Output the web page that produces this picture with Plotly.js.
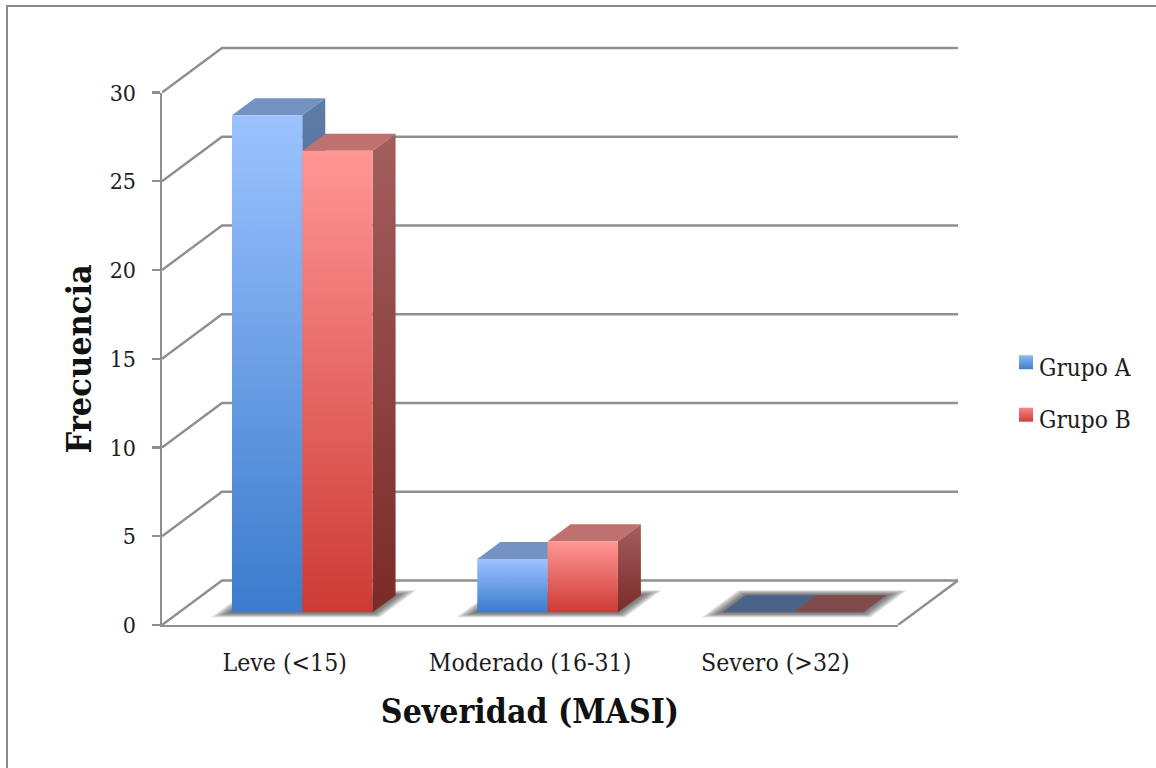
<!DOCTYPE html>
<html>
<head>
<meta charset="utf-8">
<script src="https://cdn.plot.ly/plotly-3.0.1.min.js"></script>
<style>html,body{margin:0;padding:0;background:#fff}#chart{width:1156px;height:768px}</style>
</head>
<body>
<div id="chart"></div>
<script>
// Severity counts per study group
const categories = ['Leve (<15)', 'Moderado (16-31)', 'Severo (>32)'];
const grupoA = [28, 3, 0];
const grupoB = [26, 4, 0];
const yTicks = [0, 5, 10, 15, 20, 25, 30];

const FONT = '"DejaVu Serif Condensed","DejaVu Serif","Liberation Serif",serif';
const INK = '#1c1c1c';
const GRID = '#8f8f8f';
const GRID_W = 2.4;

// Front plane of the chart in pixels; the labelled axes span this box
const W = 1156, H = 768;
const L = 162, R = 898, T = 92.5, B = 625;
const ux = (R - L) / categories.length;   // pixels per category
const uy = (B - T) / 30;                  // pixels per unit of frequency
const dx = px => px / ux;
const dy = px => px / uy;

// Oblique projection of the third dimension, in data units
const wall = {x: dx(60), y: dy(44.5)};
const plane = {x: dx(17.6), y: dy(12.7)};
const depth = {x: dx(23), y: dy(17)};
const barW = dx(70.3);

// Outer drawing box: the receding walls plus room for their line width
const OR = R + 64, OT = 44;
const pw = OR - L, ph = B - OT;

const palette = {
  a: {front: ['#9cc3ff', '#3b7bcc'], side: ['#5f7ba6', '#2f5f99'], top: '#7593c2', flat: '#4b6388'},
  b: {front: ['#ff9694', '#cd3a35'], side: ['#a35f5e', '#7a2a27'], top: '#bf7170', flat: '#7f4c4b'}
};

const traces = [];

function poly(xs, ys, style) {
  traces.push(Object.assign({
    type: 'scatter', mode: 'lines', xaxis: 'x2', yaxis: 'y2', x: xs, y: ys, fill: 'toself',
    line: {width: 0}, showlegend: false, hoverinfo: 'skip'
  }, style));
}

// Back wall, side wall and floor outline
(function () {
  const xs = [], ys = [];
  yTicks.forEach(v => {
    xs.push(0, wall.x, 3 + wall.x, null);
    ys.push(v, v + wall.y, v + wall.y, null);
  });
  xs.push(3, 3 + wall.x);
  ys.push(0, wall.y);
  traces.push({
    type: 'scatter', mode: 'lines', xaxis: 'x2', yaxis: 'y2', x: xs, y: ys,
    line: {color: GRID, width: GRID_W}, showlegend: false, hoverinfo: 'skip'
  });
})();

// Soft cast shadow on the floor: nested translucent footprints
function shadow(i) {
  const x0 = i + 0.5 + plane.x - barW, x1 = i + 0.5 + plane.x + barW;
  const y0 = plane.y;
  const skew = (depth.x / depth.y);
  const steps = 7;
  for (let k = steps; k >= 1; k--) {
    const mh = dx(14 * k / steps), mv = dy(5 * k / steps);
    const s = mv * skew;
    poly(
      [x0 - mh - s, x1 + mh - s, x1 + mh + depth.x + s, x0 - mh + depth.x + s, x0 - mh - s],
      [y0 - mv, y0 - mv, y0 + depth.y + mv, y0 + depth.y + mv, y0 - mv],
      {fillcolor: 'rgba(60,60,60,0.15)'}
    );
  }
}

function bar(i, offset, value, c) {
  const x0 = i + 0.5 + plane.x + offset, x1 = x0 + barW;
  const y0 = plane.y, y1 = y0 + value;
  const up = (a, b) => ({type: 'vertical', colorscale: [[0, b], [1, a]]});
  // top face
  poly([x0, x1, x1 + depth.x, x0 + depth.x, x0],
       [y1, y1, y1 + depth.y, y1 + depth.y, y1],
       {fillcolor: value > 0 ? c.top : c.flat});
  if (value > 0) {
    // side face
    poly([x1, x1 + depth.x, x1 + depth.x, x1, x1],
         [y0, y0 + depth.y, y1 + depth.y, y1, y0],
         {fillgradient: up(c.side[0], c.side[1])});
    // front face
    poly([x0, x1, x1, x0, x0], [y0, y0, y1, y1, y0],
         {fillgradient: up(c.front[0], c.front[1])});
  }
}

categories.forEach((_, i) => shadow(i));
categories.forEach((_, i) => {
  bar(i, -barW, grupoA[i], palette.a);
  bar(i, 0, grupoB[i], palette.b);
});

// Legend entries
[['Grupo A', '#8fb8f2', '#3f7ecb'], ['Grupo B', '#f58886', '#cf3f3a']].forEach(([name, c0, c1]) => {
  traces.push({
    type: 'scatter', mode: 'markers', name, legendgroup: name, x: [null], y: [null],
    marker: {symbol: 'square', size: 14, color: c0, gradient: {type: 'vertical', color: c1}},
    hoverinfo: 'skip'
  });
});

const layout = {
  width: W, height: H,
  margin: {l: L, r: W - OR, t: OT, b: H - B, pad: 0},
  paper_bgcolor: '#fff', plot_bgcolor: 'rgba(0,0,0,0)',
  font: {family: FONT, color: INK},
  xaxis: {
    domain: [0, (R - L) / pw], anchor: 'y',
    range: [0, 3], tickmode: 'array',
    tickvals: categories.map((_, i) => i + 0.5), ticktext: categories,
    ticks: '', ticklabelstandoff: 14, tickfont: {size: 24.6, family: FONT, color: INK},
    showgrid: false, zeroline: false, showline: true, linecolor: GRID, linewidth: GRID_W,
    title: {text: 'Severidad (MASI)', standoff: 24, font: {size: 33.5, family: FONT, color: '#111', weight: 'bold'}}
  },
  yaxis: {
    domain: [0, (B - T) / ph], anchor: 'x',
    range: [0, 30], tickmode: 'array', tickvals: yTicks,
    ticks: 'outside', ticklen: 8, tickwidth: GRID_W, tickcolor: GRID, ticklabelstandoff: 11,
    tickfont: {size: 23, family: FONT, color: INK},
    showgrid: false, zeroline: false, showline: true, linecolor: GRID, linewidth: GRID_W,
    title: {text: 'Frecuencia', standoff: 8, font: {size: 34, family: FONT, color: '#111', weight: 'bold'}}
  },
  // Drawing space for the projected walls and bars, same scale as the labelled axes
  xaxis2: {domain: [0, 1], anchor: 'y2', range: [0, pw / ux], visible: false},
  yaxis2: {domain: [0, 1], anchor: 'x2', range: [0, ph / uy], visible: false},
  legend: {
    x: (999 - L) / pw, xanchor: 'left', y: 1 - (344 - OT) / ph, yanchor: 'top',
    font: {size: 24.2, family: FONT, color: INK}, tracegroupgap: 18,
    bgcolor: 'rgba(0,0,0,0)', itemclick: false
  },
  showlegend: true,
  // Sheet frame along the top and left edges
  shapes: [
    {type: 'line', xref: 'paper', yref: 'paper', x0: (7 - L) / pw, x1: (W - L) / pw, y0: 1 + (OT - 6) / ph, y1: 1 + (OT - 6) / ph, line: {color: '#8a8a8a', width: 2}},
    {type: 'line', xref: 'paper', yref: 'paper', x0: (7 - L) / pw, x1: (7 - L) / pw, y0: 1 + (OT - 5) / ph, y1: 1 - (H - OT) / ph, line: {color: '#8a8a8a', width: 2}}
  ]
};

Plotly.newPlot('chart', traces, layout, {displayModeBar: false, staticPlot: true}).then(gd => {
  // Tuck the legend swatches closer to their labels
  gd.querySelectorAll('.legend .legendsymbols').forEach(el => el.setAttribute('transform', 'translate(7,-4)'));
});
</script>
</body>
</html>
